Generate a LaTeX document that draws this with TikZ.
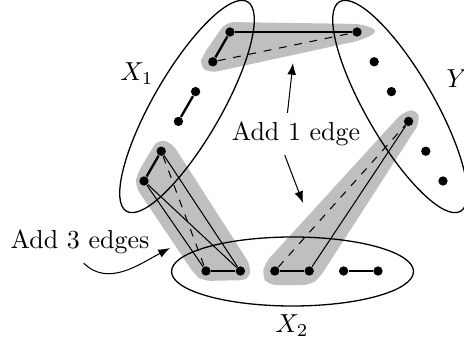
\documentclass[tikz,border=0pt]{standalone}
\usepackage{tikz}
\usepackage{amsmath}
\usetikzlibrary{arrows.meta}

\begin{document}
\begin{tikzpicture}[x=0.385pt, y=-0.385pt,
        vtx/.style={circle, fill=black, inner sep=0pt, minimum size=3.6pt},
        matched/.style={line width=0.9pt},
        added/.style={dashed},
        setbdry/.style={line width=0.5pt},
        hull/.style={fill=black!25, rounded corners=3pt},
        pointer/.style={-{Latex[length=4.5pt, width=3.4pt]}}]
        \useasboundingbox (0,0) rectangle (464,349);

        % Shaded groups
        \fill[hull] (226,22) -- (362,24) -- (379,31) -- (362,40) -- (210,73) -- (199,66) -- (203,55) -- cycle;
        \fill[hull] (158,139) -- (172,143) -- (251,266) -- (249,280) -- (203,281) -- (195,275) -- (135,186) -- (137,174) -- cycle;
        \fill[hull] (265,263) -- (403,112) -- (417,109) -- (420,122) -- (320,277) -- (311,285) -- (268,285) -- (262,276) -- cycle;

        % The three sets
        \coordinate (xonec) at (187,106.5);
        \coordinate (xtwoc) at (292.5,271.5);
        \coordinate (yc) at (400,106.5);
        \draw[setbdry, rotate around={60:(xonec)}] (xonec) ellipse [x radius=121, y radius=34];
        \draw[setbdry] (xtwoc) ellipse [x radius=121, y radius=34.5];
        \draw[setbdry, rotate around={-60:(yc)}] (yc) ellipse [x radius=121, y radius=34];

        % Vertices of X_1
        \node[vtx] (x1a) at (230,32) {};
        \node[vtx] (x1b) at (212.8,61.8) {};
        \node[vtx] (x1c) at (195.6,91.6) {};
        \node[vtx] (x1d) at (178.4,121.4) {};
        \node[vtx] (x1e) at (161.2,151.2) {};
        \node[vtx] (x1f) at (144,181) {};
        % Vertices of X_2
        \node[vtx] (x2a) at (206,271) {};
        \node[vtx] (x2b) at (240.4,271) {};
        \node[vtx] (x2c) at (274.8,271) {};
        \node[vtx] (x2d) at (309.2,271) {};
        \node[vtx] (x2e) at (343.6,271) {};
        \node[vtx] (x2f) at (378,271) {};
        % Vertices of Y
        \node[vtx] (ya) at (357,32) {};
        \node[vtx] (yb) at (374.2,61.8) {};
        \node[vtx] (yc) at (391.4,91.6) {};
        \node[vtx] (yd) at (408.6,121.4) {};
        \node[vtx] (ye) at (425.8,151.2) {};
        \node[vtx] (yf) at (443,181) {};

        % Matching edges
        \draw[matched] (x1a) -- (x1b);
        \draw[matched] (x1c) -- (x1d);
        \draw[matched] (x1e) -- (x1f);
        \draw[matched] (x2a) -- (x2b);
        \draw[matched] (x2c) -- (x2d);
        \draw[matched] (x2e) -- (x2f);

        % Other edges
        \draw (x1a) -- (ya);
        \draw[added] (x1b) -- (ya);
        \draw (x2d) -- (yd);
        \draw[added] (x2c) -- (yd);
        \draw (x1f) -- (x2a);
        \draw (x1f) -- (x2b);
        \draw (x1e) -- (x2b);
        \draw[added] (x1e) -- (x2a);

        % Labels
        \node (lxone) at (137,74) {$X_1$};
        \node (lxtwo) at (292,326) {$X_2$};
        \node (ly) at (457,79) {$Y$};

        \node (add1) at (296,134) {Add 1 edge};
        \coordinate (tipup) at (293,63);
        \coordinate (tipdown) at (303,203);
        \draw[pointer] (add1.112) -- (tipup);
        \draw[pointer] (add1.242) -- (tipdown);

        \node (add3) at (80,242) {Add 3 edges};
        \coordinate (tipthree) at (170,248);
        \draw[pointer] (add3.280) to[out=-45, in=208] (tipthree);
    \end{tikzpicture}
\end{document}
